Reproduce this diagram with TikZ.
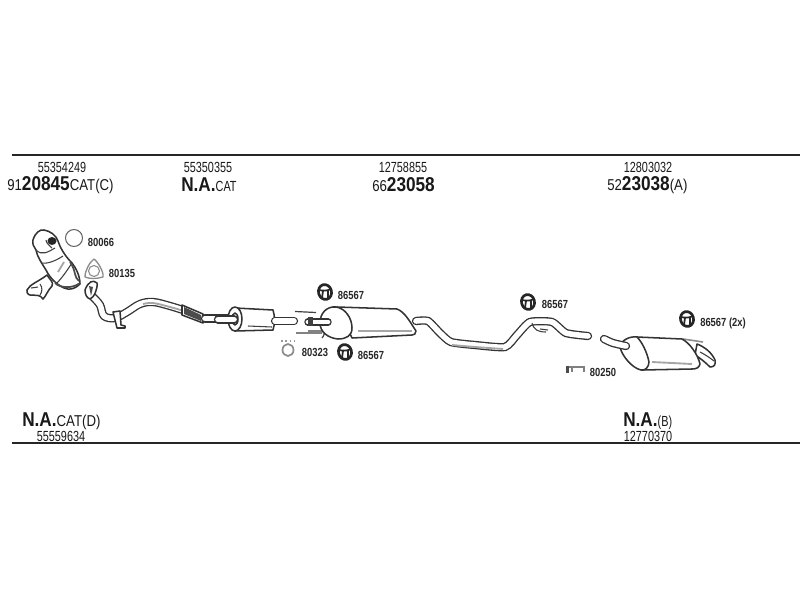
\documentclass[tikz,border=0pt]{standalone}
\usepackage{fontspec}
\newfontfamily\partsmall[FakeStretch=0.74]{Liberation Sans}
\newfontfamily\partmid[FakeStretch=0.84]{Liberation Sans}
\newfontfamily\partbig[FakeStretch=0.86]{Liberation Sans Bold}
\newfontfamily\partref[FakeStretch=0.8]{Liberation Sans Bold}
\newcommand{\smalltxt}[1]{{\fontsize{11pt}{11pt}\partsmall #1}}
\newcommand{\midtxt}[1]{{\fontsize{11.8pt}{12pt}\partmid #1}}
\newcommand{\bigtxt}[1]{{\fontsize{15pt}{15pt}\partbig #1}}
\tikzset{
  rule/.style={line width=1.6pt, black!85},
  outline/.style={line width=1.15pt, black!80, line join=round, fill=white},
  thin part/.style={line width=.8pt, black!75},
  shade part/.style={line width=1.4pt, black!35},
  pipe/.style={line width=1pt, draw=black!80, double=white, double distance=#1, line cap=round},
  pipe/.default=4.2pt,
  plabel/.style={inner sep=0pt, text=black!90},
  reflabel/.style={inner sep=0pt, text=black!85, font=\fontsize{8.8pt}{9pt}\partref},
  hanger/.pic={
    \draw[line width=2pt, black!85, rotate=15] (0,0) circle [x radius=6.5, y radius=7.5];
    \draw[line width=1.3pt, black!85] (-6,-2) .. controls (-2,-1) and (2,-1) .. (6,-3);
    \draw[line width=1.3pt, black!85] (-2,-1) -- (-3,6) (3,-2) -- (3,6);
  }
}
\begin{document}
\begin{tikzpicture}[x=.75pt,y=-.75pt]
\useasboundingbox (0,0) rectangle (800,600);
\fill[white] (0,0) rectangle (800,600);
% rules
\coordinate (topl) at (12,155);
\coordinate (topr) at (800,155);
\coordinate (botl) at (12,443);
\coordinate (botr) at (800,443);
\draw[rule] (topl) -- (topr);
\draw[rule] (botl) -- (botr);
% top labels
\node[plabel] (no1) at (62,167) {\smalltxt{55354249}};
\node[plabel] (no2) at (208,167) {\smalltxt{55350355}};
\node[plabel] (no3) at (403,167) {\smalltxt{12758855}};
\node[plabel] (no4) at (648,167) {\smalltxt{12803032}};
\node[plabel,anchor=west] (ref1) at (7,185) {\midtxt{91}\bigtxt{20845}\midtxt{CAT(C)}};
\node[plabel,anchor=west] (ref2) at (181,185) {\bigtxt{N.A.}\smalltxt{CAT}};
\node[plabel,anchor=west] (ref3) at (372,185) {\midtxt{66}\bigtxt{23058}};
\node[plabel,anchor=west] (ref4) at (607,185) {\midtxt{52}\bigtxt{23038}\midtxt{(A)}};
% bottom labels
\node[plabel,anchor=west] (ref5) at (22,421) {\bigtxt{N.A.}\midtxt{CAT(D)}};
\node[plabel] (no5) at (61,436) {\smalltxt{55559634}};
\node[plabel,anchor=west] (ref6) at (623,421) {\bigtxt{N.A.}\smalltxt{(B)}};
\node[plabel] (no6) at (648,436) {\smalltxt{12770370}};
% catalyst
\draw[outline] (27,290) .. controls (30,284) and (38,282) .. (47,275)
  .. controls (50,280) and (54,282) .. (52,286) .. controls (48,290) and (46,296) .. (43,299)
  .. controls (40,294) and (36,296) .. (33,295) .. controls (30,296) and (26,294) .. (27,290) -- cycle;
\draw[thin part] (31,288) -- (38,287) (40,284) .. controls (43,288) and (42,292) .. (40,295);
\draw[outline] (33,240) .. controls (35,233) and (40,229) .. (44,230)
  .. controls (50,231) and (56,235) .. (58,241) .. controls (60,247) and (64,255) .. (72,263)
  .. controls (76,268) and (80,276) .. (80,284) .. controls (76,288) and (70,291) .. (64,288)
  .. controls (56,284) and (50,278) .. (46,270) .. controls (41,262) and (37,256) .. (36,250)
  .. controls (34,247) and (32,244) .. (33,240) -- cycle;
\fill[black!85] (52,241) circle [x radius=4.5, y radius=4];
\draw[thin part] (36,250) .. controls (42,256) and (48,252) .. (55,248)
  (41,263) .. controls (46,264) and (54,262) .. (63,256)
  (56,284) .. controls (62,278) and (66,272) .. (72,263)
  (46,240) .. controls (46,243) and (50,246) .. (52,248);
\draw[line width=1.3pt, black!70] (55,283) .. controls (60,288) and (72,289) .. (80,283)
  (70,262) .. controls (76,270) and (74,278) .. (79,281);
\draw[shade part] (58,272) -- (64,262);
% ring and gasket
\draw[line width=.8pt, black!60] (74,238) circle [radius=8.5];
\node[reflabel] (l80066) at (101,242) {80066};
\draw[line width=1pt, black!45, line join=round] (94,259) .. controls (98,262) and (104,272) .. (103,277)
  .. controls (96,279) and (90,279) .. (85,277) .. controls (85,270) and (90,262) .. (94,259) -- cycle;
\draw[line width=.8pt, black!45] (94,271) circle [radius=5.5];
\node[reflabel] (l80135) at (122,273) {80135};
% front pipe
\draw[pipe] plot[smooth,tension=.6] coordinates {(93,297) (100,305) (104,316) (115,318) (127,312) (140,304) (153,302) (170,306) (186,311)};
\draw[shade part] plot[smooth,tension=.6] coordinates {(143,304) (153,303) (170,307) (184,311)};
\draw[outline] (85,290) .. controls (88,282) and (93,279) .. (97,283) .. controls (98,288) and (94,298) .. (90,299)
  .. controls (87,298) and (85,295) .. (85,290) -- cycle;
\fill[black!70] (89,286) -- (91,296) -- (93,287) -- cycle;
\draw[outline] (113,312) -- (120,311) -- (121,325) -- (125,326) -- (125,328) -- (117,328) -- cycle;
% flex section
\draw[outline] (182,305) -- (203,314) -- (203,323) -- (182,315) -- cycle;
\fill[black!70] (184,307) -- (201,315) -- (201,321) -- (184,314) -- cycle;
\draw[pipe] (205,318.5) -- (230,318.5);
% small muffler
\draw[outline] (235,308) -- (273,310) .. controls (275,316) and (275,324) .. (273,330) -- (235,331) -- cycle;
\draw[pipe] (275,321) -- (294,321);
\draw[outline] (235,319) circle [x radius=7, y radius=12];
\draw[outline] (235,319) circle [x radius=3, y radius=6];
\draw[pipe] (218,319.5) -- (234,319.5);
\draw[thin part] (248,326) -- (272,327);
% clamp
\draw[thin part,line width=.9pt] (295,311.5) -- (316,312.5) (296,333) -- (322,333)
  (308,331) -- (322,331) (322,331) .. controls (326,331) and (324,336) .. (322,338);
% main muffler
\draw[outline] (337,307) -- (397,309) .. controls (405,312) and (410,322) .. (416,331)
  .. controls (416,334) and (414,335) .. (412,335) -- (352,338) -- cycle;
\draw[outline] (320,323) .. controls (320,313) and (327,306) .. (336,307)
  .. controls (345,308) and (352,318) .. (352,328) .. controls (352,336) and (346,339) .. (338,339)
  .. controls (328,338) and (320,332) .. (320,323) -- cycle;
\draw[shade part] (358,331) -- (412,331);
\draw[pipe=3.6pt] (308,322) -- (328,322);
\fill[black!75] (308,317) rectangle (313,326);
% middle pipe
\draw[pipe] plot[smooth,tension=.35] coordinates {(416,321) (428,321) (440,333) (451,342) (475,345) (505,347) (517,335) (530,322) (552,322) (566,333) (588,336)};
\draw[shade part] plot[smooth,tension=.35] coordinates {(452,345) (475,347) (503,349)};
\draw[thin part] (532,323) .. controls (534,330) and (538,332) .. (546,332) (540,329) -- (548,330);
% rear muffler
\draw[line width=1.2pt, black!45] (683,339) -- (703,342);
\draw[outline] (697,344) .. controls (705,347) and (712,353) .. (715,360) .. controls (716,365) and (714,367) .. (710,367)
  .. controls (705,362) and (700,358) .. (695,355) -- cycle;
\draw[thin part] (700,352) .. controls (706,355) and (710,358) .. (714,361);
\draw[outline] (637,337) -- (682,339) .. controls (690,343) and (698,355) .. (700,364)
  .. controls (699,368) and (696,369) .. (692,369) -- (642,370) -- cycle;
\draw[outline] (620,347) .. controls (621,340) and (630,336) .. (637,337) .. controls (642,342) and (647,352) .. (649,362)
  .. controls (649,367) and (645,371) .. (641,370) .. controls (632,368) and (622,356) .. (620,347) -- cycle;
\draw[shade part] (652,362) -- (692,364);
\draw[pipe] plot[smooth,tension=.5] coordinates {(604,339) (613,343) (626,346)};
% hangers
\pic at (325,292) {hanger};
\pic at (345,352) {hanger};
\pic at (528,302) {hanger};
\pic at (687,319) {hanger};
\node[reflabel] (l86567a) at (351,295) {86567};
\node[reflabel] (l86567b) at (371,355) {86567};
\node[reflabel] (l86567c) at (555,304) {86567};
\node[reflabel] (l86567d) at (723,323) {86567 (2x)};
% small clips
\draw[line width=1.3pt, black!45] (288,350) circle [x radius=5.5, y radius=6];
\draw[line width=1.2pt, black!40, dotted] (281,341) -- (296,341);
\node[reflabel] (l80323) at (315,352) {80323};
\fill[black!70] (566,366) rectangle (569,373);
\draw[thin part,black!50] (569,367) -- (584,367) -- (584,372) (572,367) -- (572,372);
\node[reflabel] (l80250) at (603,372) {80250};
\end{tikzpicture}
\end{document}
